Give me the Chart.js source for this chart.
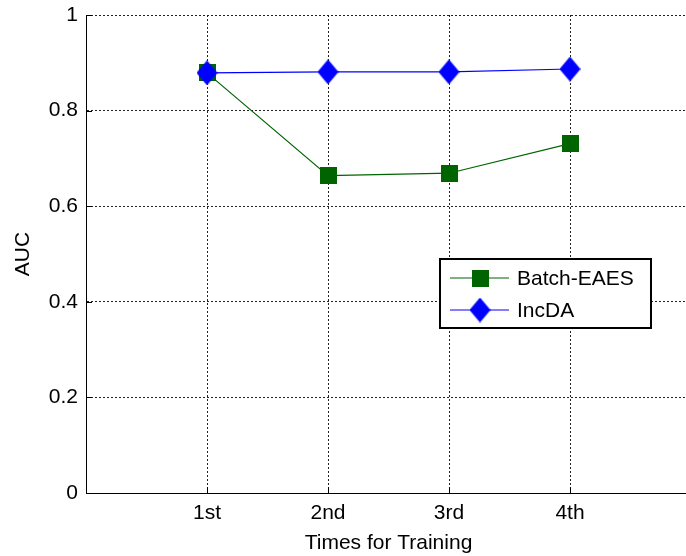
<!DOCTYPE html>
<html>
<head>
<meta charset="utf-8">
<script src="https://cdn.jsdelivr.net/npm/chart.js@4/dist/chart.umd.min.js"></script>
<style>
  html, body { margin: 0; padding: 0; background: #fff; overflow: hidden; }
  #wrap { width: 692px; height: 556px; }
</style>
</head>
<body>
<div id="wrap"><canvas id="c" width="692" height="556"></canvas></div>
<script>
// Training rounds on the x axis
const categories = ['1st', '2nd', '3rd', '4th'];
// AUC per training round
const batchEaes = [0.879, 0.664, 0.669, 0.731];
const incDa = [0.879, 0.881, 0.881, 0.887];
const seriesNames = ['Batch-EAES', 'IncDA'];
const yTickLabels = ['0', '0.2', '0.4', '0.6', '0.8', '1'];

const FONT = 'Liberation Sans, Arial, Helvetica, sans-serif';
const GREEN = '#006400';
const BLUE = '#0000ff';

function squareMarker(size, color) {
  const c = document.createElement('canvas');
  c.width = size; c.height = size;
  const g = c.getContext('2d');
  g.fillStyle = color;
  g.fillRect(0, 0, size, size);
  return c;
}
function diamondMarker(w, h, color) {
  const c = document.createElement('canvas');
  c.width = w; c.height = h;
  const g = c.getContext('2d');
  g.fillStyle = color;
  g.beginPath();
  g.moveTo(w / 2, 0);
  g.lineTo(w, h / 2);
  g.lineTo(w / 2, h);
  g.lineTo(0, h / 2);
  g.closePath();
  g.fill();
  return c;
}
const sqMark = squareMarker(17, GREEN);
const diMark = diamondMarker(21, 25, BLUE);

const toPoints = arr => arr.map((v, i) => ({ x: i + 1, y: v }));

// Small inward tick marks on the left and bottom axes
const innerTicks = {
  id: 'innerTicks',
  afterDatasetsDraw(chart) {
    const { ctx, chartArea: a, scales: { x, y } } = chart;
    ctx.save();
    ctx.strokeStyle = '#000';
    ctx.lineWidth = 1;
    ctx.beginPath();
    y.ticks.forEach(t => {
      const py = Math.round(y.getPixelForValue(t.value)) + 0.5;
      ctx.moveTo(a.left, py); ctx.lineTo(a.left + 6, py);
    });
    categories.forEach((_, i) => {
      const px = Math.round(x.getPixelForValue(i + 1)) + 0.5;
      ctx.moveTo(px, a.bottom); ctx.lineTo(px, a.bottom - 6);
    });
    ctx.stroke();
    ctx.restore();
  }
};

// Boxed legend inside the plot area
const boxLegend = {
  id: 'boxLegend',
  afterDraw(chart) {
    const { ctx } = chart;
    const bx = 440, by = 259, bw = 211, bh = 69;
    ctx.save();
    ctx.fillStyle = '#fff';
    ctx.fillRect(bx, by, bw, bh);
    ctx.strokeStyle = '#000';
    ctx.lineWidth = 2;
    ctx.strokeRect(bx, by, bw, bh);
    const rows = [
      { name: seriesNames[0], color: GREEN, mark: sqMark, y: 278 },
      { name: seriesNames[1], color: BLUE, mark: diMark, y: 310 }
    ];
    rows.forEach(r => {
      ctx.strokeStyle = r.color;
      ctx.lineWidth = 1.2;
      ctx.beginPath();
      ctx.moveTo(450, r.y); ctx.lineTo(509, r.y);
      ctx.stroke();
      ctx.drawImage(r.mark, 480 - r.mark.width / 2, r.y - r.mark.height / 2);
      ctx.fillStyle = '#000';
      ctx.font = '21px ' + FONT;
      ctx.textBaseline = 'middle';
      ctx.textAlign = 'left';
      ctx.fillText(r.name, 517, r.y + 1);
    });
    ctx.restore();
  }
};

new Chart(document.getElementById('c'), {
  type: 'line',
  data: {
    datasets: [
      {
        label: seriesNames[0],
        data: toPoints(batchEaes),
        borderColor: GREEN,
        borderWidth: 1.2,
        pointStyle: sqMark,
        order: 1,
        tension: 0
      },
      {
        label: seriesNames[1],
        data: toPoints(incDa),
        borderColor: BLUE,
        borderWidth: 1.2,
        pointStyle: diMark,
        order: 0,
        tension: 0
      }
    ]
  },
  options: {
    responsive: false,
    devicePixelRatio: 1,
    animation: false,
    layout: { autoPadding: false, padding: { top: 15, right: 1, left: 0, bottom: 0 } },
    plugins: { legend: { display: false }, tooltip: { enabled: false } },
    elements: { point: { radius: 9, hoverRadius: 9 } },
    scales: {
      x: {
        type: 'linear',
        min: 0,
        max: 5,
        afterFit: s => {
          s.height = 63;
          s.paddingLeft = 0; s.paddingRight = 0;
        },
        afterBuildTicks: s => { s.ticks = [0, 1, 2, 3, 4, 5].map(v => ({ value: v })); },
        ticks: {
          autoSkip: false,
          maxRotation: 0,
          padding: 8,
          color: '#000',
          font: { family: FONT, size: 21 },
          callback: v => categories[v - 1] || ''
        },
        grid: {
          drawTicks: false,
          color: '#222',
          lineWidth: 1
        },
        border: { display: true, color: '#000', width: 1, dash: [2, 2] },
        title: {
          display: true,
          text: 'Times for Training',
          color: '#000',
          font: { family: FONT, size: 21 },
          padding: { top: 0, bottom: 0 }
        }
      },
      y: {
        min: 0,
        max: 1,
        afterFit: s => {
          s.width = 86;
          s.paddingTop = 0; s.paddingBottom = 0;
        },
        ticks: {
          stepSize: 0.2,
          padding: 8,
          color: '#000',
          font: { family: FONT, size: 21 },
          callback: (v, i) => yTickLabels[i]
        },
        grid: {
          drawTicks: false,
          color: '#222',
          lineWidth: 1
        },
        border: { display: true, color: '#000', width: 1, dash: [2, 2] },
        title: {
          display: true,
          text: 'AUC',
          color: '#000',
          font: { family: FONT, size: 21 },
          padding: { top: 11, bottom: 0 }
        }
      }
    }
  },
  plugins: [innerTicks, boxLegend]
});
</script>
</body>
</html>
